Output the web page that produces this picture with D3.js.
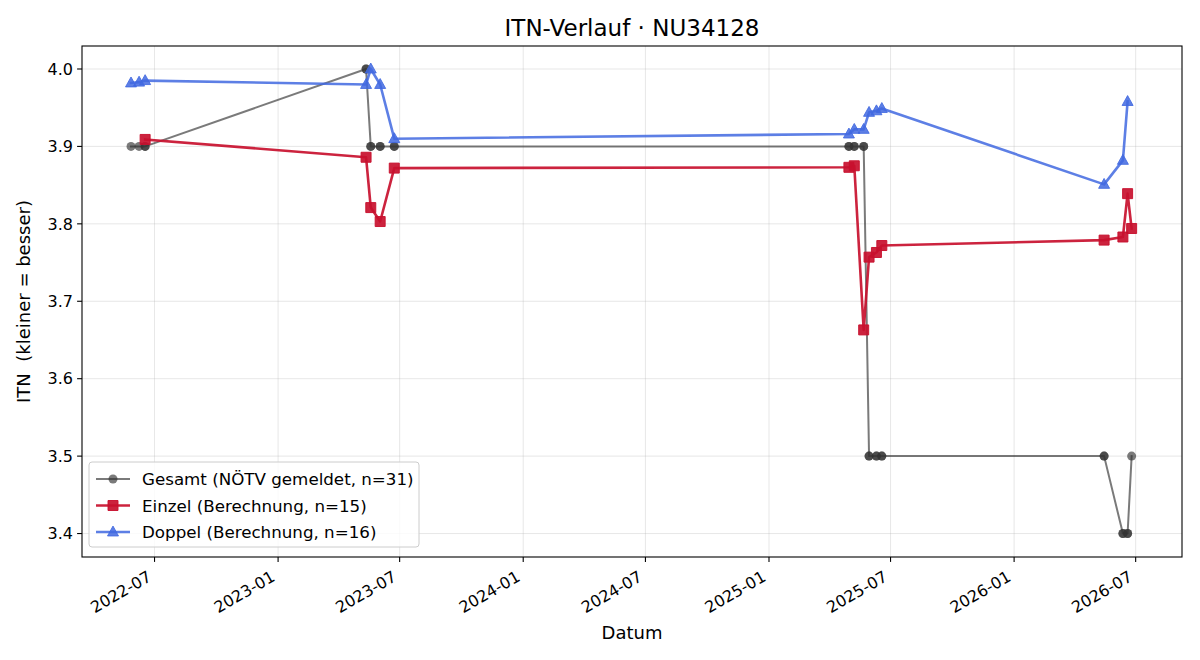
<!DOCTYPE html>
<html><head><meta charset="utf-8">
<script src="https://cdn.jsdelivr.net/npm/d3@7"></script>
<style>body{margin:0;background:#fff}svg{display:block;font-family:"DejaVu Sans",sans-serif}text{white-space:pre}</style>
</head><body><svg id="c" width="1200" height="660"></svg>
<script>
const titleText = "ITN-Verlauf · NU34128";
const xLabel = "Datum";
const yLabel = "ITN  (kleiner = besser)";
const xTicks = ["2022-07-01","2023-01-01","2023-07-01","2024-01-01","2024-07-01","2025-01-01","2025-07-01","2026-01-01","2026-07-01"];
const yTicks = [3.4,3.5,3.6,3.7,3.8,3.9,4.0];
const xDomain = ["2022-03-15","2026-09-08"];
const yDomain = [3.3697, 4.0297];

const gesamtDates = ["2022-05-27","2022-06-08","2022-06-17","2022-06-17","2023-05-12","2023-05-12","2023-05-19","2023-05-19","2023-06-02","2023-06-02","2023-06-23","2023-06-23","2025-04-30","2025-04-30","2025-05-08","2025-05-08","2025-05-22","2025-05-22","2025-05-30","2025-05-30","2025-06-10","2025-06-10","2025-06-18","2025-06-18","2026-05-15","2026-05-15","2026-06-12","2026-06-12","2026-06-19","2026-06-19","2026-06-25"];
const gesamtValues = [3.9,3.9,3.9,3.9,4.0,4.0,3.9,3.9,3.9,3.9,3.9,3.9,3.9,3.9,3.9,3.9,3.9,3.9,3.5,3.5,3.5,3.5,3.5,3.5,3.5,3.5,3.4,3.4,3.4,3.4,3.5];
const einzelDates = ["2022-06-17","2023-05-12","2023-05-19","2023-06-02","2023-06-23","2025-04-30","2025-05-08","2025-05-22","2025-05-30","2025-06-10","2025-06-18","2026-05-15","2026-06-12","2026-06-19","2026-06-25"];
const einzelValues = [3.909,3.886,3.821,3.803,3.872,3.873,3.875,3.663,3.757,3.763,3.772,3.779,3.783,3.839,3.794];
const doppelDates = ["2022-05-27","2022-06-08","2022-06-17","2023-05-12","2023-05-19","2023-06-02","2023-06-23","2025-04-30","2025-05-08","2025-05-22","2025-05-30","2025-06-10","2025-06-18","2026-05-15","2026-06-12","2026-06-19"];
const doppelValues = [3.982,3.983,3.985,3.980,4.000,3.980,3.910,3.916,3.922,3.922,3.944,3.946,3.949,3.851,3.882,3.958];
const seriesNames = ["Gesamt (NÖTV gemeldet, n=31)","Einzel (Berechnung, n=15)","Doppel (Berechnung, n=16)"];

const parse = d3.utcParse("%Y-%m-%d");
const L=82,R=1182,T=46,B=557;
const svg = d3.select("#c");
const x = d3.scaleUtc().domain(xDomain.map(parse)).range([L,R]);
const y = d3.scaleLinear().domain(yDomain).range([B,T]);

// grid
const g = svg.append("g");
g.selectAll(".gx").data(xTicks).join("line").attr("x1",d=>x(parse(d))).attr("x2",d=>x(parse(d))).attr("y1",T).attr("y2",B).attr("stroke","#b0b0b0").attr("stroke-opacity",0.3).attr("stroke-width",1);
g.selectAll(".gy").data(yTicks).join("line").attr("x1",L).attr("x2",R).attr("y1",d=>y(d)).attr("y2",d=>y(d)).attr("stroke","#b0b0b0").attr("stroke-opacity",0.3).attr("stroke-width",1);

const series = [
  {dates:gesamtDates, values:gesamtValues, color:"#333333", op:0.65, lw:2, marker:"circle", size:9, edge:0},
  {dates:einzelDates, values:einzelValues, color:"#c8102e", op:0.92, lw:2.6, marker:"square", size:10, edge:1},
  {dates:doppelDates, values:doppelValues, color:"#4169e1", op:0.85, lw:2.6, marker:"triangle", size:11, edge:1}
];
function markerPath(type,s){
  if(type==="circle") return d3.symbol(d3.symbolCircle, Math.PI*(s/2)*(s/2))();
  if(type==="square") return `M${-s/2},${-s/2}H${s/2}V${s/2}H${-s/2}Z`;
  const h=s*0.9; return `M0,${-h*0.6}L${s/2},${h*0.4}L${-s/2},${h*0.4}Z`;
}
series.forEach(s=>{
  const pts = s.dates.map((d,i)=>[x(parse(d)), y(s.values[i])]);
  svg.append("path").attr("d",d3.line()(pts)).attr("fill","none").attr("stroke",s.color).attr("stroke-opacity",s.op).attr("stroke-width",s.lw).attr("stroke-linejoin","round").attr("stroke-linecap","square");
  svg.append("g").selectAll("path").data(pts).join("path").attr("transform",p=>`translate(${p[0]},${p[1]})`).attr("d",markerPath(s.marker,s.size)).attr("fill",s.color).attr("fill-opacity",s.op).attr("stroke",s.edge?s.color:"none").attr("stroke-opacity",s.op).attr("stroke-width",s.edge);
});

// frame
svg.append("rect").attr("x",L).attr("y",T).attr("width",R-L).attr("height",B-T).attr("fill","none").attr("stroke","#000").attr("stroke-width",1.1);

// axes ticks
const ax = svg.append("g");
xTicks.forEach(t=>{
  const tx=x(parse(t));
  ax.append("line").attr("x1",tx).attr("x2",tx).attr("y1",B).attr("y2",B+4.9).attr("stroke","#000").attr("stroke-width",1.1);
  ax.append("text").attr("transform",`translate(${tx-2},${B+23}) rotate(-30)`).attr("text-anchor","end").attr("font-size",16).text(t.slice(0,7));
});
yTicks.forEach(t=>{
  ax.append("line").attr("x1",L-4.9).attr("x2",L).attr("y1",y(t)).attr("y2",y(t)).attr("stroke","#000").attr("stroke-width",1.1);
  ax.append("text").attr("x",L-9).attr("y",y(t)).attr("dy","0.36em").attr("text-anchor","end").attr("font-size",16).text(t.toFixed(1));
});
svg.append("text").attr("x",(L+R)/2).attr("y",639).attr("text-anchor","middle").attr("font-size",18).text(xLabel);
svg.append("text").attr("transform",`translate(30,${(T+B)/2}) rotate(-90)`).attr("text-anchor","middle").attr("font-size",18).text(yLabel);
svg.append("text").attr("x",(L+R)/2).attr("y",36).attr("text-anchor","middle").attr("font-size",23).text(titleText);

// legend
const lg = svg.append("g");
lg.append("rect").attr("x",89).attr("y",462).attr("width",330).attr("height",85).attr("rx",3).attr("fill","#fff").attr("fill-opacity",0.8).attr("stroke","#cccccc").attr("stroke-width",1);
series.forEach((s,i)=>{
  const yy = 479 + i*26.5;
  lg.append("line").attr("x1",96).attr("x2",130).attr("y1",yy).attr("y2",yy).attr("stroke",s.color).attr("stroke-opacity",s.op).attr("stroke-width",s.lw);
  lg.append("path").attr("transform",`translate(113,${yy})`).attr("d",markerPath(s.marker,s.size)).attr("fill",s.color).attr("fill-opacity",s.op).attr("stroke",s.edge?s.color:"none").attr("stroke-opacity",s.op).attr("stroke-width",s.edge);
  lg.append("text").attr("x",142).attr("y",yy).attr("dy","0.36em").attr("font-size",16.7).text(seriesNames[i]);
});
</script></body></html>
